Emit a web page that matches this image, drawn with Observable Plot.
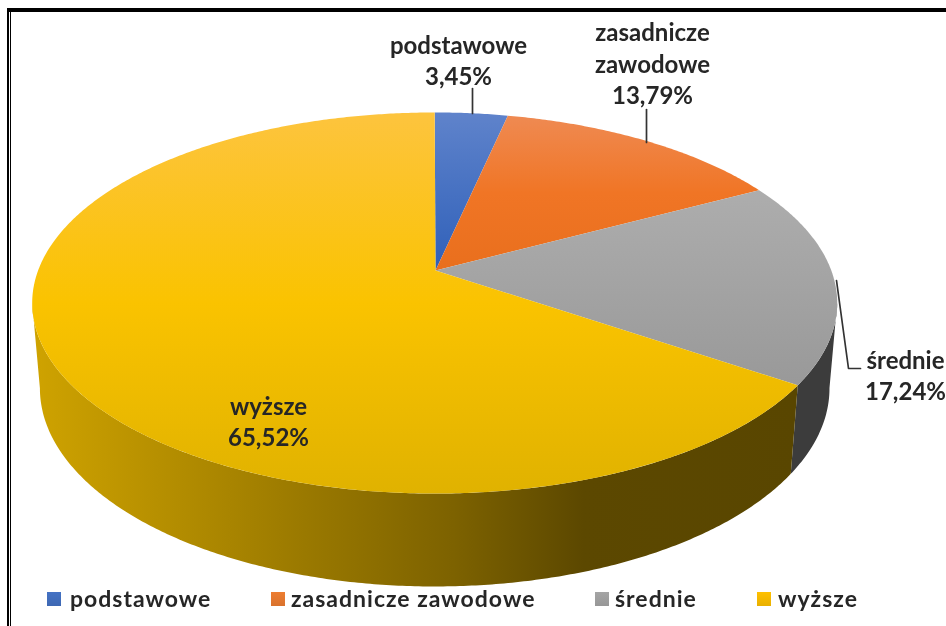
<!DOCTYPE html>
<html><head><meta charset="utf-8">
<script src="https://cdn.jsdelivr.net/npm/d3@7"></script>
<script src="https://cdn.jsdelivr.net/npm/@observablehq/plot@0.6"></script>
<style>
html,body{margin:0;padding:0;background:#fff;width:946px;height:626px;overflow:hidden}
#page{position:relative;width:946px;height:626px;overflow:hidden;font-family:Lato,sans-serif;color:#262626}
#chart svg{display:block;filter:blur(.45px)}
#frame{position:absolute;left:7px;top:8px;right:-10px;bottom:-10px;border-left:2px solid #000;border-top:4px solid #000}
#frame2{position:absolute;left:10px;top:12px;right:-10px;bottom:-10px;border-left:1px solid #000}
#legend{position:relative;height:39px;font-size:23px;font-weight:700;filter:blur(.45px)}
#legend span{position:absolute;white-space:nowrap;top:-3px}
#legend i{position:absolute;top:5px;width:14px;height:14px}
</style></head><body>
<div id="page"><div id="chart"></div><div id="legend"></div><div id="frame"></div><div id="frame2"></div></div>
<script>
const categories = ["podstawowe", "zasadnicze zawodowe", "średnie", "wyższe"];
const shares = [3.45, 13.79, 17.24, 65.52];
const topGradients = [["#5f83cb", "#2f60b9"], ["#ef8a52", "#f07525", "#e96f1d"], ["#adadad", "#999999"], ["#fdc43e", "#fac300", "#e0b200"]];
const wallGradientStops = [[0, "#cfa300"], [0.55, "#7d6200"], [0.72, "#5c4800"], [1, "#594600"]];
const legendColors = ["#4472c4", "#ed7d31", "#a5a5a5", "#ffc000"];

// layout
const W = 946, H = 587;
const topDisc = {x0: 434.2, y0: 270, a: 396.6, b: 185, k: 0.1706};
const baseDisc = {x0: 434.2, y0: 354, a: 389, b: 192.4, k: 0.1706};
const apex = {x: 435, y: 270};
const silhouette = [0.277, 0.7228];
const labelPos = [
  {x: 458, y: 59}, {x: 652, y: 62}, {x: 905, y: 374}, {x: 268, y: 420}
];
const leaders = [
  [[472, 88], [472, 113]],
  [[646, 109], [646, 142]],
  [[836, 280], [848, 368], [860, 368]]
];
const legendX = [[47, 70], [271, 291], [595, 615], [757, 778]];

const total = d3.sum(shares);
const edges = d3.cumsum(shares).map(v => v / total);
const starts = [0, ...edges.slice(0, -1)];
const project = (d, t) => {
  const A = t * 2 * Math.PI, u = Math.sin(A), v = Math.cos(A), w = 1 + d.k * v;
  return {x: d.x0 + d.a * u / w, y: d.y0 - d.b * v / w};
};
const arc = (d, t0, t1) => {
  const n = Math.max(2, Math.ceil(Math.abs(t1 - t0) * 720));
  return d3.range(n + 1).map(i => project(d, t0 + (t1 - t0) * i / n));
};
const slicePts = i => [apex, ...arc(topDisc, starts[i], edges[i]), apex];
const wallPts = (t0, t1) => [...arc(topDisc, t0, t1), ...arc(baseDisc, t1, t0)];

const defs = () => {
  const s = d3.create("svg:defs");
  topGradients.forEach((stops, i) => {
    const g = s.append("linearGradient").attr("id", "top" + i).attr("x1", 0).attr("y1", 0).attr("x2", 0).attr("y2", 1);
    stops.forEach((c, j) => g.append("stop").attr("offset", j / (stops.length - 1)).attr("stop-color", c));
  });
  const w = s.append("linearGradient").attr("id", "wall").attr("x1", 0).attr("y1", 0).attr("x2", 1).attr("y2", 0);
  wallGradientStops.forEach(([o, c]) => w.append("stop").attr("offset", o).attr("stop-color", c));
  return s.node();
};

const labelText = categories.map((c, i) => {
  const name = i === 1 ? c.replace(" ", "\n") : c;
  return name + "\n" + shares[i].toFixed(2).replace(".", ",") + "%";
});

const plot = Plot.plot({
  width: W, height: H, margin: 0,
  x: {domain: [0, W], range: [0, W], axis: null},
  y: {domain: [0, H], range: [0, H], axis: null},
  style: {background: "transparent", overflow: "hidden"},
  marks: [
    defs,
    Plot.line(wallPts(silhouette[0], edges[1 + 1]), {x: "x", y: "y", fill: "#3c3c3c", stroke: "none"}),
    Plot.line(wallPts(edges[2], silhouette[1]), {x: "x", y: "y", fill: "url(#wall)", stroke: "none"}),
    ...categories.map((c, i) => Plot.line(slicePts(i), {x: "x", y: "y", fill: `url(#top${i})`, stroke: "none"})),
    ...leaders.map(l => Plot.line(l.map(([x, y]) => ({x, y})), {x: "x", y: "y", stroke: "#333", strokeWidth: 1.7})),
    Plot.text(labelText, {
      x: (d, i) => labelPos[i].x, y: (d, i) => labelPos[i].y, text: d => d,
      fontSize: 24, fontWeight: 700, fontFamily: "Lato, sans-serif", fill: "#262626",
      lineHeight: 1.31, textAnchor: "middle"
    })
  ]
});
document.getElementById("chart").append(plot);

const lg = d3.select("#legend");
categories.forEach((c, i) => {
  lg.append("i").style("left", legendX[i][0] + "px").style("background", `linear-gradient(${legendColors[i]}, ${d3.color(legendColors[i]).darker(0.25)})`);
  lg.append("span").style("left", legendX[i][1] + "px").style("letter-spacing", "1px").text(c);
});
</script></body></html>
